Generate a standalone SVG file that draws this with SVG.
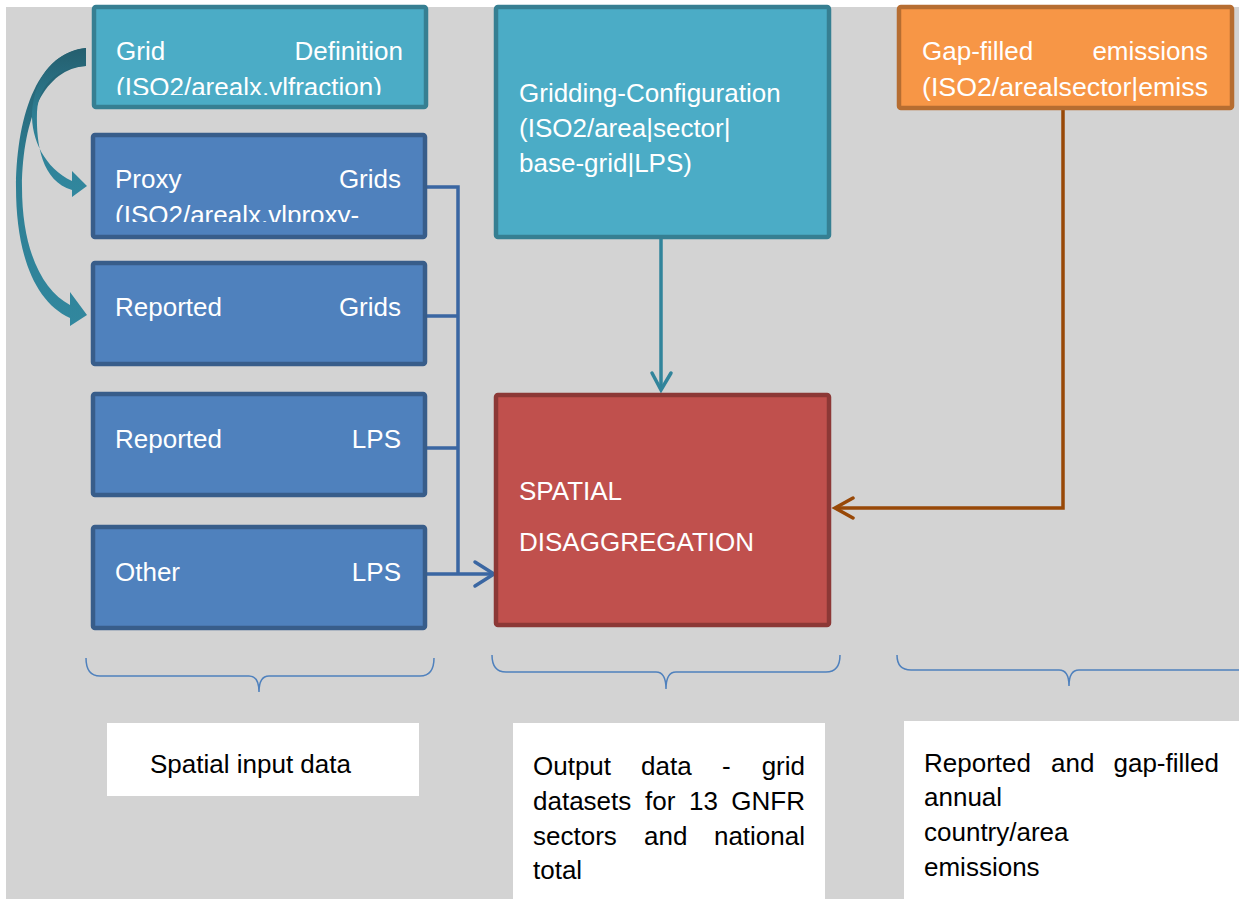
<svg xmlns="http://www.w3.org/2000/svg" width="1239" height="899" viewBox="0 0 1239 899">
<style>
.t{font-family:"Liberation Sans",Arial,sans-serif;font-size:26px;fill:#ffffff}
.b{font-family:"Liberation Sans",Arial,sans-serif;font-size:26px;fill:#000000}
.teal{fill:#4BACC6;stroke:#367F92;stroke-width:4.5}
.blue{fill:#4F81BD;stroke:#385D8A;stroke-width:4.5}
.orange{fill:#F79646;stroke:#B66D31;stroke-width:4.5}
.red{fill:#C0504D;stroke:#8C3836;stroke-width:4.5}
.brace{fill:none;stroke:#4F81BD;stroke-width:1.5}
.e{text-anchor:end}
</style>
<defs>
<linearGradient id="cg" x1="0" y1="0" x2="0" y2="1" gradientUnits="objectBoundingBox">
<stop offset="0" stop-color="#245E6E"/>
<stop offset="0.45" stop-color="#2E7E93"/>
<stop offset="1" stop-color="#31879E"/>
</linearGradient>
<clipPath id="c1"><rect x="96" y="9" width="328" height="86"/></clipPath>
<clipPath id="c2"><rect x="95" y="137" width="328" height="85"/></clipPath>
</defs>
<rect x="6" y="7" width="1233" height="892" fill="#D3D3D3"/>

<g id="curved-arrows">
<path fill="url(#cg)" d="M86,48 C40,52 17,110 16,187 C16,255 35,302 70,318 L70,326 L87,315 L70,292 L70,305 C42,290 22,250 22,187 C23,115 45,69 86,66 Z"/>
<path fill="url(#cg)" d="M86,48 C55,52 35,75 32,112 C31,140 45,168 72,181 L72,171 L87,186 L72,197 L72,190 C42,181 36,145 37,112 C39,82 60,67 86,66 Z"/>
</g>

<g id="connectors" fill="none" stroke-linecap="butt">
<path d="M427,187 H458 V574 M427,316 H458 M427,448 H458 M427,574 H494" stroke="#3A66A2" stroke-width="3.5"/>
<path d="M475,562 L494,574 L475,586" stroke="#3A66A2" stroke-width="3.5" stroke-linecap="round" stroke-linejoin="miter"/>
<path d="M661,239 V390" stroke="#31849B" stroke-width="3.5"/>
<path d="M652,373 L661,390 L671,373" stroke="#31849B" stroke-width="3.5" stroke-linecap="round"/>
<path d="M1063,110 V508 H835" stroke="#984807" stroke-width="3.5"/>
<path d="M853,498 L835,508 L853,518" stroke="#984807" stroke-width="3.5" stroke-linecap="round"/>
</g>

<g id="grid-definition">
<rect class="teal" x="94" y="7" width="332" height="100" rx="2"/>
<g clip-path="url(#c1)">
<text class="t" x="116" y="60">Grid</text>
<text class="t e" x="403" y="60">Definition</text>
<text class="t" x="116" y="96">(ISO2/arealx.vlfraction)</text>
</g>
</g>

<g id="proxy-grids">
<rect class="blue" x="93" y="135" width="332" height="102" rx="2"/>
<g clip-path="url(#c2)">
<text class="t" x="115" y="188">Proxy</text>
<text class="t e" x="401" y="188">Grids</text>
<text class="t" x="115" y="224">(ISO2/arealx.vlproxy-</text>
</g>
</g>

<g id="reported-grids">
<rect class="blue" x="93" y="263" width="332" height="101" rx="2"/>
<text class="t" x="115" y="316">Reported</text>
<text class="t e" x="401" y="316">Grids</text>
</g>

<g id="reported-lps">
<rect class="blue" x="93" y="394" width="332" height="101" rx="2"/>
<text class="t" x="115" y="448">Reported</text>
<text class="t e" x="401" y="448">LPS</text>
</g>

<g id="other-lps">
<rect class="blue" x="93" y="527" width="332" height="101" rx="2"/>
<text class="t" x="115" y="581">Other</text>
<text class="t e" x="401" y="581">LPS</text>
</g>

<g id="gridding-configuration">
<rect class="teal" x="496" y="7" width="333" height="230" rx="2"/>
<text class="t" x="519" y="102">Gridding-Configuration</text>
<text class="t" x="519" y="137">(ISO2/area|sector|</text>
<text class="t" x="519" y="172">base-grid|LPS)</text>
</g>

<g id="gap-filled-emissions">
<rect class="orange" x="899" y="7" width="333" height="101" rx="2"/>
<text class="t" x="922" y="60">Gap-filled</text>
<text class="t e" x="1208" y="60">emissions</text>
<text class="t" x="922" y="96" textLength="286" lengthAdjust="spacingAndGlyphs">(ISO2/arealsector|emiss</text>
</g>

<g id="spatial-disaggregation">
<rect class="red" x="496" y="395" width="333" height="230" rx="2"/>
<text class="t" x="519" y="500">SPATIAL</text>
<text class="t" x="519" y="551">DISAGGREGATION</text>
</g>

<g id="braces">
<path class="brace" d="M86,658 Q86,676 100,676 H249 Q259,676 259,692 Q259,676 269,676 H420 Q434,676 434,658"/>
<path class="brace" d="M492,655 Q492,672 506,672 H656 Q666,672 666,689 Q666,672 676,672 H826 Q840,672 840,655"/>
<path class="brace" d="M897,655 Q897,670 911,670 H1059 Q1069,670 1069,686 Q1069,670 1079,670 H1239"/>
</g>

<g id="label-spatial-input">
<rect x="107" y="723" width="312" height="73" fill="#ffffff"/>
<text class="b" x="150" y="773">Spatial input data</text>
</g>

<g id="label-output">
<rect x="513" y="723" width="312" height="176" fill="#ffffff"/>
<text class="b" x="533" y="775">Output</text>
<text class="b" x="641" y="775">data</text>
<text class="b" x="722" y="775">-</text>
<text class="b e" x="805" y="775">grid</text>
<text class="b" x="533" y="810">datasets</text>
<text class="b" x="645" y="810">for</text>
<text class="b" x="689" y="810">13</text>
<text class="b e" x="805" y="810">GNFR</text>
<text class="b" x="533" y="845">sectors</text>
<text class="b" x="644" y="845">and</text>
<text class="b e" x="805" y="845">national</text>
<text class="b" x="533" y="879">total</text>
</g>

<g id="label-reported">
<rect x="904" y="721" width="335" height="178" fill="#ffffff"/>
<text class="b" x="924" y="772">Reported</text>
<text class="b" x="1051" y="772">and</text>
<text class="b e" x="1219" y="772">gap-filled</text>
<text class="b" x="924" y="806">annual</text>
<text class="b" x="924" y="841">country/area</text>
<text class="b" x="924" y="876">emissions</text>
</g>
</svg>
